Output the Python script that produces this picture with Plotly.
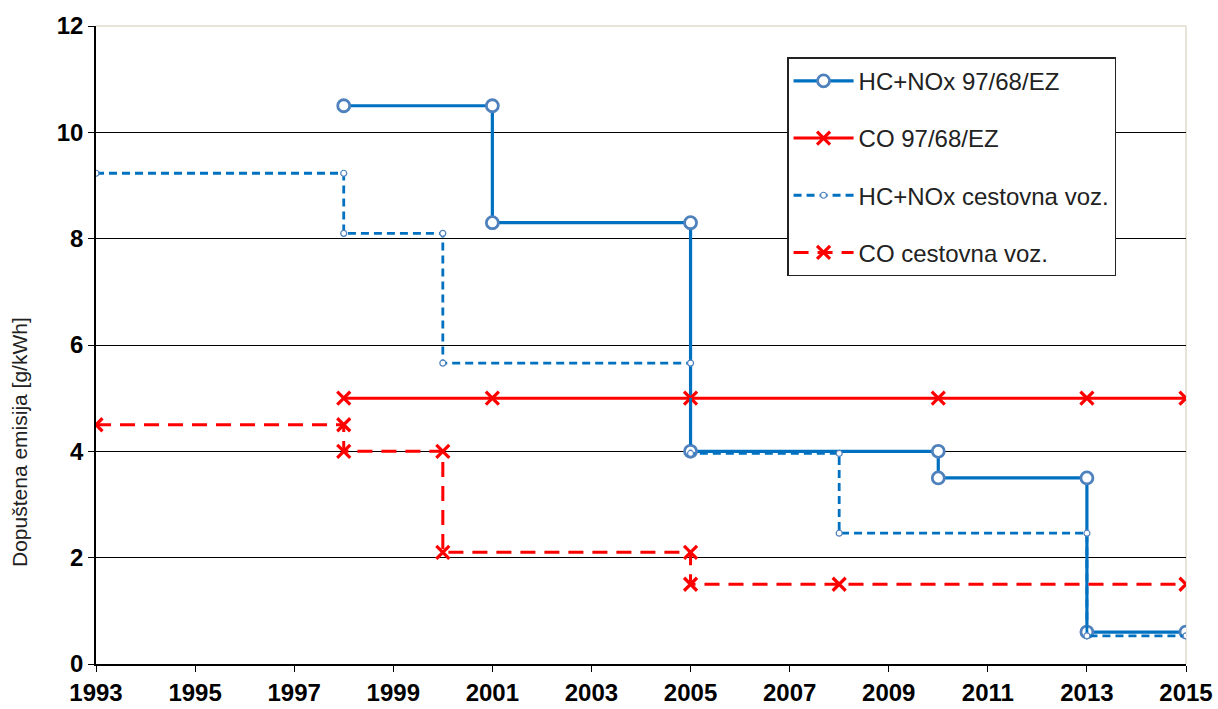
import plotly.graph_objects as go

# HC+NOx 97/68/EZ
hc_ez_x = [1998, 2001, 2001, 2005, 2005, 2010, 2010, 2013, 2013, 2015]
hc_ez_y = [10.5, 10.5, 8.3, 8.3, 4.0, 4.0, 3.5, 3.5, 0.6, 0.6]
# CO 97/68/EZ
co_ez_x = [1998, 2001, 2005, 2010, 2013, 2015]
co_ez_y = [5.0, 5.0, 5.0, 5.0, 5.0, 5.0]
# HC+NOx cestovna voz.
hc_road_x = [1993, 1998, 1998, 2000, 2000, 2005, 2005, 2008, 2008, 2013, 2013, 2015]
hc_road_y = [9.23, 9.23, 8.1, 8.1, 5.66, 5.66, 3.96, 3.96, 2.46, 2.46, 0.53, 0.53]
# CO cestovna voz.
co_road_x = [1993, 1998, 1998, 2000, 2000, 2005, 2005, 2008, 2015]
co_road_y = [4.5, 4.5, 4.0, 4.0, 2.1, 2.1, 1.5, 1.5, 1.5]

x_ticks = list(range(1993, 2016, 2))
y_ticks = [0, 2, 4, 6, 8, 10, 12]
y_title = "Dopuštena emisija [g/kWh]"

BLUE = "#0070C0"
MBLUE = "#4F81BD"
RED = "#FF0000"
FONT = "Liberation Sans, Arial, sans-serif"

fig = go.Figure()
fig.add_trace(go.Scatter(
    x=hc_ez_x, y=hc_ez_y, mode="lines+markers", name="HC+NOx 97/68/EZ",
    line=dict(color=BLUE, width=3.2),
    marker=dict(symbol="circle", size=12, color="white", line=dict(color=MBLUE, width=2.8)),
    legendgroup="a"))
fig.add_trace(go.Scatter(
    x=co_ez_x, y=co_ez_y, mode="lines+markers", name="CO 97/68/EZ",
    line=dict(color=RED, width=3),
    marker=dict(symbol="x-thin", size=13, color=RED, line=dict(color=RED, width=3.2)),
    legendgroup="b"))
fig.add_trace(go.Scatter(
    x=hc_road_x, y=hc_road_y, mode="lines+markers", name="HC+NOx cestovna voz.",
    line=dict(color=BLUE, width=2.8, dash="8px,5px"),
    marker=dict(symbol="circle", size=6, color="white", line=dict(color=MBLUE, width=1.2)),
    legendgroup="c"))
fig.add_trace(go.Scatter(
    x=co_road_x, y=co_road_y, mode="lines+markers", name="CO cestovna voz.",
    line=dict(color=RED, width=3, dash="15px,9px"),
    marker=dict(symbol="x-thin", size=13, color=RED, line=dict(color=RED, width=3.2)),
    legendgroup="d"))

fig.update_layout(
    width=1218, height=709,
    margin=dict(l=96, r=32, t=26, b=45, autoexpand=False),
    paper_bgcolor="white", plot_bgcolor="white",
    font=dict(family=FONT, color="black"),
    showlegend=True,
    legend=dict(
        x=0.634, y=0.951, xanchor="left", yanchor="top",
        bgcolor="white", bordercolor="#222222", borderwidth=1.5,
        font=dict(size=24, color="#222222"),
        tracegroupgap=23, itemwidth=60,
    ),
    xaxis=dict(
        range=[1993, 2015], tickmode="array", tickvals=x_ticks,
        ticktext=[str(v) for v in x_ticks],
        showgrid=False, zeroline=False, automargin=False,
        ticklabeloverflow="allow",
        showline=True, linecolor="black", linewidth=1.5,
        ticks="outside", ticklen=6, tickcolor="black",
        tickfont=dict(size=24, family=FONT, weight="bold"),
    ),
    yaxis=dict(
        range=[0, 12], tickmode="array", tickvals=y_ticks,
        showgrid=True, gridcolor="black", gridwidth=1.2, zeroline=False,
        automargin=False, ticklabeloverflow="allow",
        showline=True, linecolor="black", linewidth=1.5,
        ticks="outside", ticklen=6, tickcolor="black",
        tickfont=dict(size=24, family=FONT, weight="bold"),
    ),
    annotations=[
        dict(text=y_title, xref="paper", yref="paper", x=-0.0697, y=0.348,
             xanchor="center", yanchor="middle", textangle=-90, showarrow=False,
             font=dict(size=21, color="#222222")),
    ],
    shapes=[
        dict(type="line", xref="paper", yref="paper", x0=0, x1=1, y0=1, y1=1,
             line=dict(color="#E6E4D8", width=2), layer="above"),
        dict(type="line", xref="paper", yref="paper", x0=1, x1=1, y0=0, y1=1,
             line=dict(color="#E6E4D8", width=2), layer="below"),
    ],
)

fig.write_html("out.html", config={"displayModeBar": False},
               post_script="document.body.style.margin='0';document.body.style.overflow='hidden';")
